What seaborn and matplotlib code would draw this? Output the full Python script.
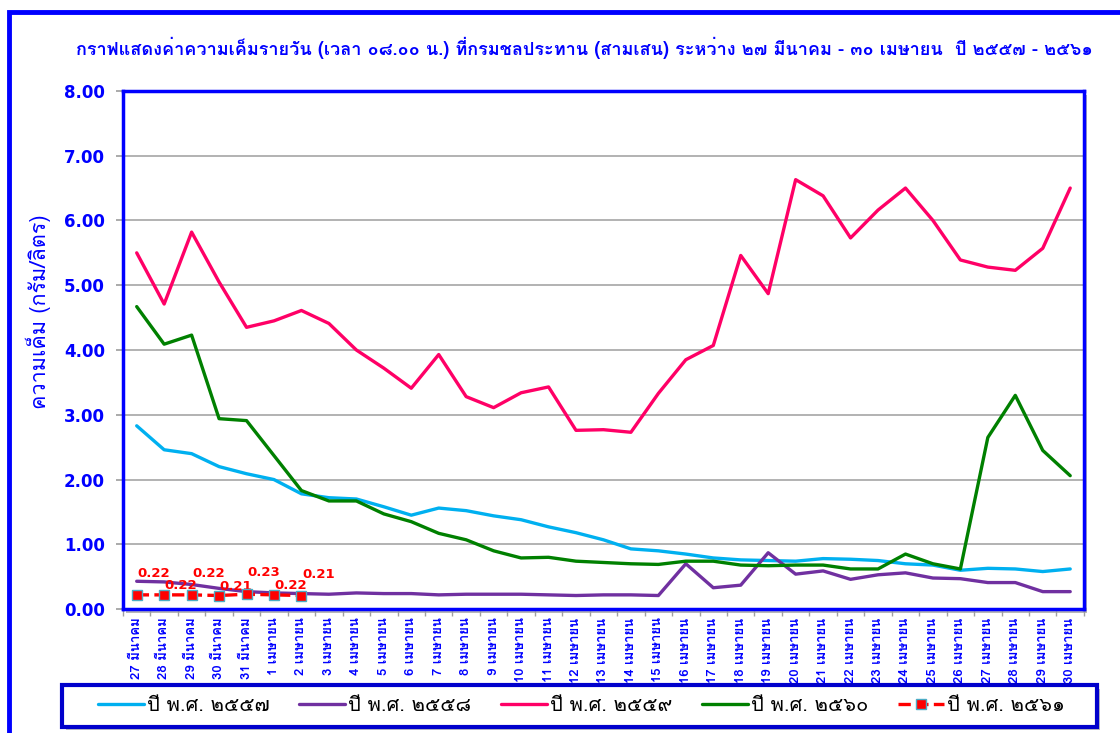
import numpy as np
import matplotlib
matplotlib.use('Agg')
import matplotlib.pyplot as plt
import seaborn as sns
from matplotlib import font_manager
from matplotlib.ft2font import FT2Font
from matplotlib.patches import Rectangle

# ข้อมูลความเค็ม (กรัม/ลิตร) เวลา 08.00 น. วันที่ 27 มี.ค. - 30 เม.ย.
days = ['27 มีนาคม', '28 มีนาคม', '29 มีนาคม', '30 มีนาคม', '31 มีนาคม'] + \
       [f'{d} เมษายน' for d in range(1, 31)]

y2557 = [2.83, 2.46, 2.40, 2.20, 2.09, 2.00, 1.78, 1.72, 1.70, 1.58, 1.45, 1.56,
         1.52, 1.44, 1.38, 1.27, 1.18, 1.07, 0.93, 0.90, 0.85, 0.79, 0.76, 0.75,
         0.74, 0.78, 0.77, 0.75, 0.70, 0.68, 0.60, 0.63, 0.62, 0.58, 0.62]
y2558 = [0.43, 0.42, 0.38, 0.32, 0.27, 0.25, 0.24, 0.23, 0.25, 0.24, 0.24, 0.22,
         0.23, 0.23, 0.23, 0.22, 0.21, 0.22, 0.22, 0.21, 0.70, 0.33, 0.37, 0.87,
         0.54, 0.59, 0.46, 0.53, 0.56, 0.48, 0.47, 0.41, 0.41, 0.27, 0.27]
y2559 = [5.50, 4.71, 5.82, 5.05, 4.35, 4.45, 4.61, 4.41, 4.00, 3.72, 3.41, 3.93,
         3.28, 3.11, 3.34, 3.43, 2.76, 2.77, 2.73, 3.33, 3.85, 4.07, 5.46, 4.87,
         6.63, 6.38, 5.73, 6.16, 6.50, 6.00, 5.39, 5.28, 5.23, 5.57, 6.50]
y2560 = [4.67, 4.09, 4.23, 2.94, 2.91, 2.37, 1.83, 1.67, 1.67, 1.47, 1.35, 1.17,
         1.07, 0.90, 0.79, 0.80, 0.74, 0.72, 0.70, 0.69, 0.74, 0.74, 0.68, 0.67,
         0.68, 0.68, 0.62, 0.62, 0.85, 0.70, 0.62, 2.65, 3.30, 2.45, 2.06]
y2561 = [0.22, 0.22, 0.22, 0.21, 0.23, 0.22, 0.21]

labels = ['ปี พ.ศ. ๒๕๕๗', 'ปี พ.ศ. ๒๕๕๘', 'ปี พ.ศ. ๒๕๕๙', 'ปี พ.ศ. ๒๕๖๐', 'ปี พ.ศ. ๒๕๖๑']
colors = ['#00B0F0', '#7030A0', '#FF0066', '#008000', '#FF0000']


# หาฟอนต์ที่มีอักษรไทย
def thai_font():
    for f in font_manager.fontManager.ttflist:
        try:
            if FT2Font(f.fname).get_char_index(ord('ก')):
                return f.name
        except Exception:
            pass
    return 'DejaVu Sans'


sns.set_theme(style='white')
thai = thai_font()
plt.rcParams['font.family'] = [thai, 'DejaVu Sans']

blue = '#0000FF'
fig = plt.figure(figsize=(11.2, 7.33), dpi=100)
ax = fig.add_axes([0.1098, 0.169, 0.858, 0.707])

x = np.arange(len(days))
for vals, lab, col in zip([y2557, y2558, y2559, y2560], labels[:4], colors[:4]):
    sns.lineplot(x=x, y=vals, ax=ax, color=col, linewidth=2.4, label=lab)

x61 = x[:len(y2561)]
sns.lineplot(x=x61, y=y2561, ax=ax, color=colors[4], linewidth=2.4, linestyle='--',
             marker='s', markersize=7, markerfacecolor='#FF0000',
             markeredgecolor='#4BACC6', markeredgewidth=1, label=labels[4], zorder=5)
# ป้ายค่า ปี 2561 สลับสูงต่ำเหมือนต้นฉบับ
for i, (xi, v) in enumerate(zip(x61, y2561)):
    ax.annotate(f'{v:.2f}', (xi, v), textcoords='offset pixels',
                xytext=(17, 15 if i % 2 == 0 else 3),
                ha='center', va='bottom', color='#FF0000', fontsize=9.5,
                fontweight='bold', family='DejaVu Sans')

ax.set_xlim(-0.5, len(days) - 0.5)
ax.set_ylim(0, 8)
ax.set_yticks(np.arange(0, 9, 1))
ax.set_yticklabels([f'{v:.2f}' for v in range(9)], color=blue, fontsize=12,
                   fontweight='bold', family='DejaVu Sans')
ax.yaxis.grid(True, color='#A6A6A6', linewidth=1.2)
ax.set_xticks(x)
ax.set_xticklabels(days, rotation=90, color=blue, fontsize=9.5, fontweight='bold')
ax.set_xticks(np.arange(-0.5, len(days)), minor=True)
ax.tick_params(axis='x', which='major', length=0, pad=6)
ax.tick_params(axis='x', which='minor', length=5, color='#A0A0A0', bottom=True)
ax.tick_params(axis='y', length=5, color='#A0A0A0', left=True, pad=8)
for s in ax.spines.values():
    s.set_color(blue)
    s.set_linewidth(2.5)
ax.set_ylabel('ความเค็ม (กรัม/ลิตร)', color=blue, fontsize=15.5)
ax.yaxis.set_label_coords(-0.075, 0.573)
ax.set_xlabel('')

fig.text(0.522, 0.934, 'กราฟแสดงค่าความเค็มรายวัน (เวลา ๐๘.๐๐ น.) ที่กรมชลประทาน (สามเสน) '
         'ระหว่าง ๒๗ มีนาคม - ๓๐ เมษายน  ปี ๒๕๕๗ - ๒๕๖๑',
         ha='center', va='center', color=blue, fontsize=13, fontweight='bold')

# กรอบนอก
fig.patches.append(Rectangle((0.008, -0.1), 1.1, 1.084, transform=fig.transFigure,
                             fill=False, edgecolor=blue, linewidth=3.5, clip_on=False))
# เงาของพื้นที่กราฟ
fig.patches.append(Rectangle((0.1125, 0.164), 0.858, 0.707, transform=fig.transFigure,
                             facecolor='#B8B8B8', edgecolor='none', zorder=-1))

# กรอบคำอธิบาย
fig.patches.append(Rectangle((0.0585, 0.0035), 0.924, 0.057, transform=fig.transFigure,
                             facecolor='#C0C0C0', edgecolor='none', zorder=-1))
fig.patches.append(Rectangle((0.0554, 0.0085), 0.924, 0.057, transform=fig.transFigure,
                             facecolor='white', edgecolor='#0000CC', linewidth=3))

handles, labs = ax.get_legend_handles_labels()
ax.get_legend().remove()
leg = fig.legend(handles, labs, loc='center', ncol=5,
                 bbox_to_anchor=(0.519, 0.037), fontsize=14.5, handlelength=2.3,
                 handletextpad=0.15, columnspacing=1.45, frameon=False)
for t in leg.get_texts():
    t.set_color('black')

fig.savefig('out.png', dpi=100)
plt.close(fig)
